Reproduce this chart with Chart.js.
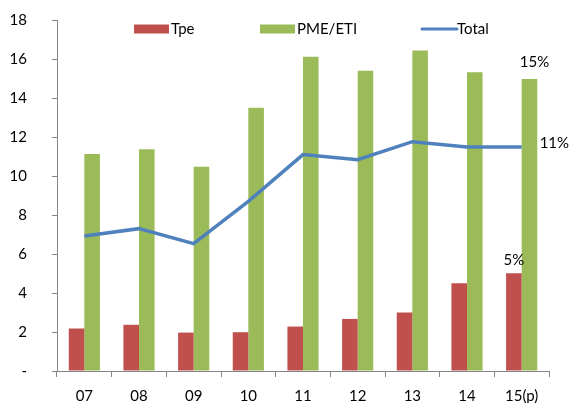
<!DOCTYPE html>
<html>
<head>
<meta charset="utf-8">
<script src="https://cdn.jsdelivr.net/npm/chart.js@4/dist/chart.umd.min.js"></script>
<style>
  html, body { margin: 0; padding: 0; background: #fff; }
  #wrap { width: 571px; height: 403px; }
</style>
</head>
<body>
<div id="wrap"><canvas id="c" width="571" height="403"></canvas></div>
<script>
const categories = ['07', '08', '09', '10', '11', '12', '13', '14', '15(p)'];
const tpe = [2.18, 2.37, 1.97, 1.99, 2.28, 2.67, 3.0, 4.5, 5.01];
const pmeEti = [11.13, 11.37, 10.48, 13.5, 16.12, 15.4, 16.43, 15.32, 14.98];
const total = [6.92, 7.3, 6.53, 8.7, 11.1, 10.84, 11.76, 11.49, 11.49];
const yTicks = [0, 2, 4, 6, 8, 10, 12, 14, 16, 18];
// growth labels shown next to the last year's marks
const lastLabels = { tpe: '5%', pmeEti: '15%', total: '11%' };

const FONT = 'Lato, "Open Sans", sans-serif';
const RED = '#C0504D', GREEN = '#9BBB59', BLUE = '#4F81BD', AXIS = '#868686';

// legend drawn across the top of the plot
const topLegend = {
  id: 'topLegend',
  afterDraw(chart) {
    const ctx = chart.ctx;
    ctx.save();
    ctx.font = '15px ' + FONT;
    ctx.fillStyle = '#000';
    ctx.textBaseline = 'middle';
    ctx.textAlign = 'left';
    const y = 29;
    const items = [
      { x: 134, label: chart.data.datasets[0].label, color: RED, type: 'box' },
      { x: 260, label: chart.data.datasets[1].label, color: GREEN, type: 'box' },
      { x: 420, label: chart.data.datasets[2].label, color: BLUE, type: 'line' }
    ];
    items.forEach(it => {
      if (it.type === 'box') {
        ctx.fillStyle = it.color;
        ctx.fillRect(it.x, y - 4.5, 35, 9);
      } else {
        ctx.strokeStyle = it.color;
        ctx.lineWidth = 3;
        ctx.lineCap = 'round';
        ctx.beginPath();
        ctx.moveTo(it.x + 2, y);
        ctx.lineTo(it.x + 37, y);
        ctx.stroke();
      }
      ctx.fillStyle = '#000';
      ctx.fillText(it.label, it.x + 37, y);
    });
    ctx.restore();
  }
};

// value labels on the last category
const endLabels = {
  id: 'endLabels',
  afterDatasetsDraw(chart) {
    const ctx = chart.ctx;
    const last = categories.length - 1;
    const r = chart.getDatasetMeta(0).data[last];
    const g = chart.getDatasetMeta(1).data[last];
    const l = chart.getDatasetMeta(2).data[last];
    ctx.save();
    ctx.font = '15px ' + FONT;
    ctx.fillStyle = '#000';
    ctx.textBaseline = 'bottom';
    ctx.textAlign = 'center';
    ctx.fillText(lastLabels.tpe, r.x, r.y - 6);
    ctx.fillText(lastLabels.pmeEti, g.x + 5, g.y - 9);
    ctx.textAlign = 'left';
    ctx.textBaseline = 'middle';
    ctx.fillText(lastLabels.total, l.x + 18, l.y - 4);
    ctx.restore();
  }
};

new Chart(document.getElementById('c'), {
  data: {
    labels: categories,
    datasets: [
      { type: 'bar', label: 'Tpe', data: tpe, backgroundColor: RED, order: 2,
        categoryPercentage: 0.57, barPercentage: 1.0 },
      { type: 'bar', label: 'PME/ETI', data: pmeEti, backgroundColor: GREEN, order: 2,
        categoryPercentage: 0.57, barPercentage: 1.0 },
      { type: 'line', label: 'Total', data: total, borderColor: BLUE, borderWidth: 3.5,
        pointRadius: 0, tension: 0, fill: false, order: 1 }
    ]
  },
  options: {
    responsive: false,
    animation: false,
    layout: { padding: { top: 20, right: 22, left: 0, bottom: 0 } },
    plugins: { legend: { display: false }, tooltip: { enabled: false } },
    scales: {
      x: {
        offset: true,
        afterFit(scale) { scale.height = 32; },
        grid: { display: true, drawOnChartArea: false, offset: true, tickLength: 6, color: AXIS },
        border: { color: AXIS, width: 1 },
        ticks: { color: '#000', font: { family: FONT, size: 15 }, padding: 10, maxRotation: 0 }
      },
      y: {
        min: 0, max: 18,
        afterBuildTicks(scale) { scale.ticks = yTicks.map(v => ({ value: v })); },
        afterFit(scale) {
          scale.width = 57;
          scale.paddingTop = 9;
          scale.paddingBottom = 0;
        },
        grid: { display: true, drawOnChartArea: false, tickLength: 5, color: AXIS },
        border: { color: AXIS, width: 1 },
        ticks: {
          color: '#000', font: { family: FONT, size: 15 }, padding: 25,
          callback: v => (v === 0 ? '-' : String(v))
        }
      }
    }
  },
  plugins: [topLegend, endLabels]
});
</script>
</body>
</html>
